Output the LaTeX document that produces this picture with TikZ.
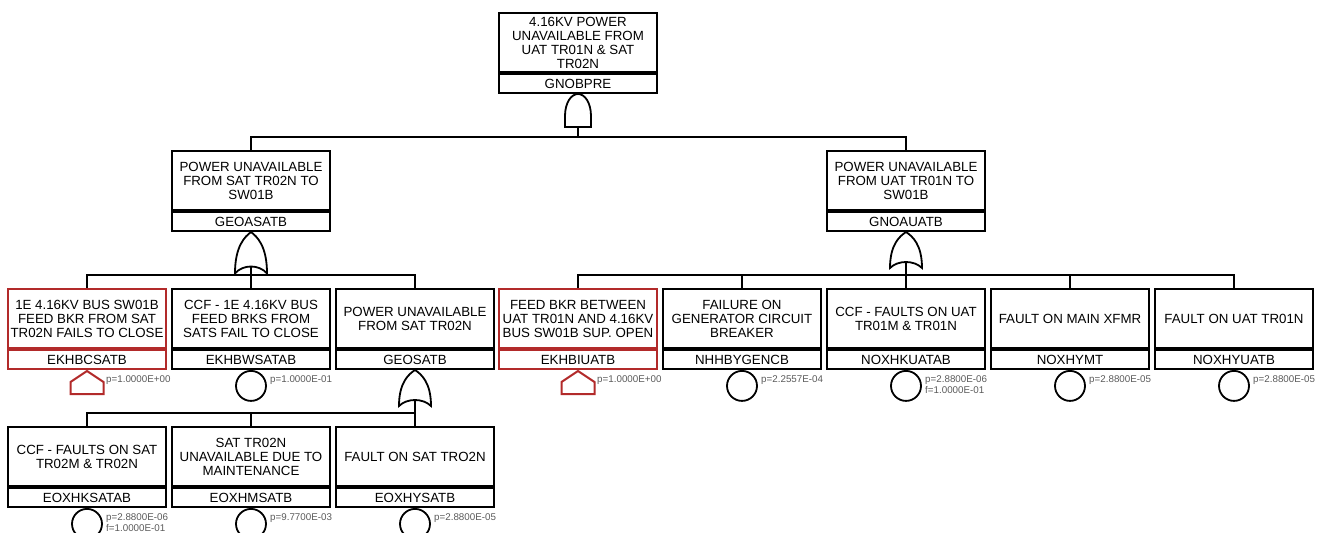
\documentclass[tikz,border=0pt]{standalone}
\usepackage{fontspec}
\setmainfont{Liberation Sans}
\usetikzlibrary{calc}
\definecolor{evred}{HTML}{B22A2A}
\definecolor{pgrey}{HTML}{5A5A5A}
\tikzset{
  evt/.style={draw=black,line width=2pt,minimum width=158pt,minimum height=59pt,inner sep=1pt,
              align=center,anchor=north,font=\fontsize{13.3}{14}\selectfont},
  eid/.style={evt,minimum height=19pt},
  redevt/.style={evt,draw=evred},
  redid/.style={eid,draw=evred},
  bev/.style={circle,draw=black,line width=1.8pt,minimum size=30pt,inner sep=0pt,anchor=north},
  prob/.style={anchor=north west,inner sep=0pt,align=left,text=pgrey,font=\fontsize{9.8}{11.6}\selectfont},
  conn/.style={line width=2pt,black},
  andgate/.pic={
    \draw[line width=1.8pt] (-13,33) -- (-13,22) .. controls (-13,9) and (-7,0) .. (0,0)
      .. controls (7,0) and (13,9) .. (13,22) -- (13,33) -- cycle;
    \coordinate (-out) at (0,33);
  },
  orgate/.pic={
    \draw[line width=1.8pt] (0,0) .. controls (6,4) and (16,12) .. (16,36)
      .. controls (8,28) and (-8,28) .. (-16,36) .. controls (-16,12) and (-6,4) .. (0,0) -- cycle;
    \coordinate (-out) at (0,30);
  },
  house/.pic={
    \draw[evred,line width=2pt] (0,1) -- (16.5,12) -- (16.5,24) -- (-16.5,24) -- (-16.5,12) -- cycle;
  },
}
\begin{document}
\begin{tikzpicture}[x=1pt,y=-1pt]
  \useasboundingbox (0,0) rectangle (1326,533);
  % top event
  \node[evt] (gnobpre) at (578,12) {4.16KV POWER\\UNAVAILABLE FROM\\UAT TR01N \& SAT\\TR02N};
  \node[eid] (gnobpre-id) at (gnobpre.south) {GNOBPRE};
  \pic (gtop) at (gnobpre-id.south) {andgate};
  \coordinate (bar0) at (578,137);
  % second level
  \node[evt] (geoasatb) at (251,150) {POWER UNAVAILABLE\\FROM SAT TR02N TO\\SW01B};
  \node[eid] (geoasatb-id) at (geoasatb.south) {GEOASATB};
  \pic[yscale=1.15] (gsat) at (geoasatb-id.south) {orgate};
  \node[evt] (gnoauatb) at (906,150) {POWER UNAVAILABLE\\FROM UAT TR01N TO\\SW01B};
  \node[eid] (gnoauatb-id) at (gnoauatb.south) {GNOAUATB};
  \pic (guat) at (gnoauatb-id.south) {orgate};
  \coordinate (barL) at (251,275);
  \coordinate (barR) at (906,275);
  % SAT branch
  \node[redevt] (ekhbcsatb) at (87,288) {1E 4.16KV BUS SW01B\\FEED BKR FROM SAT\\TR02N FAILS TO CLOSE};
  \node[redid] (ekhbcsatb-id) at (ekhbcsatb.south) {EKHBCSATB};
  \pic at (ekhbcsatb-id.south) {house};
  \node[prob] (p1) at ([shift={(19,5)}]ekhbcsatb-id.south) {p=1.0000E+00};
  \node[evt] (ekhbwsatab) at (251,288) {CCF - 1E 4.16KV BUS\\FEED BRKS FROM\\SATS FAIL TO CLOSE};
  \node[eid] (ekhbwsatab-id) at (ekhbwsatab.south) {EKHBWSATAB};
  \node[bev] (c2) at (ekhbwsatab-id.south) {};
  \node[prob] (p2) at ([shift={(19,5)}]ekhbwsatab-id.south) {p=1.0000E-01};
  \node[evt] (geosatb) at (415,288) {POWER UNAVAILABLE\\FROM SAT TR02N};
  \node[eid] (geosatb-id) at (geosatb.south) {GEOSATB};
  \pic (gsat2) at (geosatb-id.south) {orgate};
  \coordinate (barS) at (415,413);
  % SAT transformer
  \node[evt] (eoxhksatab) at (87,426) {CCF - FAULTS ON SAT\\TR02M \& TR02N};
  \node[eid] (eoxhksatab-id) at (eoxhksatab.south) {EOXHKSATAB};
  \node[bev] (c3) at (eoxhksatab-id.south) {};
  \node[prob] (p3) at ([shift={(19,5)}]eoxhksatab-id.south) {p=2.8800E-06\\f=1.0000E-01};
  \node[evt] (eoxhmsatb) at (251,426) {SAT TR02N\\UNAVAILABLE DUE TO\\MAINTENANCE};
  \node[eid] (eoxhmsatb-id) at (eoxhmsatb.south) {EOXHMSATB};
  \node[bev] (c4) at (eoxhmsatb-id.south) {};
  \node[prob] (p4) at ([shift={(19,5)}]eoxhmsatb-id.south) {p=9.7700E-03};
  \node[evt] (eoxhysatb) at (415,426) {FAULT ON SAT TRO2N};
  \node[eid] (eoxhysatb-id) at (eoxhysatb.south) {EOXHYSATB};
  \node[bev] (c5) at (eoxhysatb-id.south) {};
  \node[prob] (p5) at ([shift={(19,5)}]eoxhysatb-id.south) {p=2.8800E-05};
  % UAT branch
  \node[redevt] (ekhbiuatb) at (578,288) {FEED BKR BETWEEN\\UAT TR01N AND 4.16KV\\BUS SW01B SUP. OPEN};
  \node[redid] (ekhbiuatb-id) at (ekhbiuatb.south) {EKHBIUATB};
  \pic at (ekhbiuatb-id.south) {house};
  \node[prob] (p6) at ([shift={(19,5)}]ekhbiuatb-id.south) {p=1.0000E+00};
  \node[evt] (nhhbygencb) at (742,288) {FAILURE ON\\GENERATOR CIRCUIT\\BREAKER};
  \node[eid] (nhhbygencb-id) at (nhhbygencb.south) {NHHBYGENCB};
  \node[bev] (c7) at (nhhbygencb-id.south) {};
  \node[prob] (p7) at ([shift={(19,5)}]nhhbygencb-id.south) {p=2.2557E-04};
  \node[evt] (noxhkuatab) at (906,288) {CCF - FAULTS ON UAT\\TR01M \& TR01N};
  \node[eid] (noxhkuatab-id) at (noxhkuatab.south) {NOXHKUATAB};
  \node[bev] (c8) at (noxhkuatab-id.south) {};
  \node[prob] (p8) at ([shift={(19,5)}]noxhkuatab-id.south) {p=2.8800E-06\\f=1.0000E-01};
  \node[evt] (noxhymt) at (1070,288) {FAULT ON MAIN XFMR};
  \node[eid] (noxhymt-id) at (noxhymt.south) {NOXHYMT};
  \node[bev] (c9) at (noxhymt-id.south) {};
  \node[prob] (p9) at ([shift={(19,5)}]noxhymt-id.south) {p=2.8800E-05};
  \node[evt] (noxhyuatb) at (1234,288) {FAULT ON UAT TR01N};
  \node[eid] (noxhyuatb-id) at (noxhyuatb.south) {NOXHYUATB};
  \node[bev] (c10) at (noxhyuatb-id.south) {};
  \node[prob] (p10) at ([shift={(19,5)}]noxhyuatb-id.south) {p=2.8800E-05};
  % connectors
  \draw[conn] (gtop-out) -- (bar0) -| (geoasatb.north);
  \draw[conn] (bar0) -| (gnoauatb.north);
  \draw[conn] (gsat-out) -- (barL) -| (ekhbcsatb.north);
  \draw[conn] (barL) -- (ekhbwsatab.north);
  \draw[conn] (barL) -| (geosatb.north);
  \draw[conn] (gsat2-out) -- (barS) -| (eoxhksatab.north);
  \draw[conn] (barS) -| (eoxhmsatb.north);
  \draw[conn] (barS) -- (eoxhysatb.north);
  \draw[conn] (guat-out) -- (barR) -| (ekhbiuatb.north);
  \draw[conn] (barR) -| (nhhbygencb.north);
  \draw[conn] (barR) -- (noxhkuatab.north);
  \draw[conn] (barR) -| (noxhymt.north);
  \draw[conn] (barR) -| (noxhyuatb.north);
\end{tikzpicture}
\end{document}
